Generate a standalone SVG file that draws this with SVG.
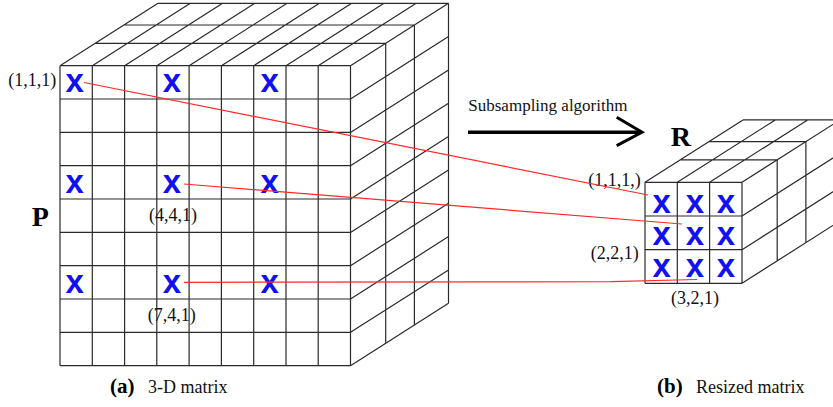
<svg xmlns="http://www.w3.org/2000/svg" width="833" height="407" viewBox="0 0 833 407">
<style>
.g{fill:none;stroke:#2a2a2a;stroke-width:1.2}
.red{fill:none;stroke:#ff2a2a;stroke-width:1.2}
.lbl{font-family:"Liberation Serif","Times New Roman",serif;font-size:18px;fill:#111}
.big{font-family:"Liberation Serif","Times New Roman",serif;font-weight:bold;font-size:28px;fill:#000}
.cap{font-family:"Liberation Serif","Times New Roman",serif;font-weight:bold;font-size:21px;fill:#000}
.mk{font-family:"Liberation Sans",Arial,sans-serif;font-weight:bold;font-size:33px;fill:#1010f0;text-anchor:middle}
</style>
<rect width="833" height="407" fill="#ffffff"/>

<g id="cubeP">
<!-- front face -->
<path class="g" d="M60,65.7V365.7M92.3,65.7V365.7M124.6,65.7V365.7M156.8,65.7V365.7M189.1,65.7V365.7M221.4,65.7V365.7M253.7,65.7V365.7M286,65.7V365.7M318.2,65.7V365.7M350.5,65.7V365.7
M60,65.7H350.5M60,99H350.5M60,132.4H350.5M60,165.7H350.5M60,199H350.5M60,232.4H350.5M60,265.7H350.5M60,299H350.5M60,332.3H350.5M60,365.7H350.5"/>
<!-- top face -->
<path class="g" d="M60,65.7L158,3.3M92.3,65.7L190.3,3.3M124.6,65.7L222.6,3.3M156.8,65.7L254.8,3.3M189.1,65.7L287.1,3.3M221.4,65.7L319.4,3.3M253.7,65.7L351.7,3.3M286,65.7L384,3.3M318.2,65.7L416.2,3.3M350.5,65.7L448.5,3.3
M95.2,43.3H385.7M123.9,25H414.4M158,3.3H448.5"/>
<!-- right face -->
<path class="g" d="M350.5,99L448.5,36.6M350.5,132.4L448.5,70M350.5,165.7L448.5,103.3M350.5,199L448.5,136.6M350.5,232.4L448.5,170M350.5,265.7L448.5,203.3M350.5,299L448.5,236.6M350.5,332.3L448.5,269.9M350.5,365.7L448.5,303.3
M385.7,43.3V343.3M414.4,25V325M448.5,3.3V303.3"/>
<text class="mk" x="74.7" y="92.3">x</text>
<text class="mk" x="172" y="192.5">x</text>
<text class="mk" x="269.7" y="292.5">x</text>
<text class="mk" x="172" y="92.3">x</text>
<text class="mk" x="269.7" y="92.3">x</text>
<text class="mk" x="74.7" y="192.5">x</text>
<text class="mk" x="269.7" y="192.5">x</text>
<text class="mk" x="74.7" y="292.5">x</text>
<text class="mk" x="172" y="292.5">x</text>
<text class="big" x="31.7" y="226">P</text>
<text class="lbl" x="8.3" y="85.5">(1,1,1)</text>
<text class="lbl" x="149" y="221">(4,4,1)</text>
<text class="lbl" x="147.7" y="321">(7,4,1)</text>
<text class="cap" x="110" y="393">(a)</text>
<text class="lbl" x="148" y="393">3-D matrix</text>
</g>

<g id="cubeR">
<path class="g" d="M645,182.3V283.3M677.3,182.3V283.3M709.6,182.3V283.3M742,182.3V283.3
M645,182.3H742M645,216H742M645,249.7H742M645,283.3H742"/>
<path class="g" d="M645,182.3L743,119.9M677.3,182.3L775.3,119.9M709.6,182.3L807.6,119.9M742,182.3L840,119.9
M680.2,159.9H777.2M708.9,141.6H805.9M743,119.9H840"/>
<path class="g" d="M742,216L840,153.6M742,249.7L840,187.3M742,283.3L840,220.9
M777.2,159.9V260.9M805.9,141.6V242.6"/>
<text class="mk" x="661.7" y="212.7">x</text>
<text class="mk" x="695" y="212.7">x</text>
<text class="mk" x="726" y="212.7">x</text>
<text class="mk" x="661.7" y="245">x</text>
<text class="mk" x="695" y="245">x</text>
<text class="mk" x="726" y="245">x</text>
<text class="mk" x="661.7" y="276.7">x</text>
<text class="mk" x="695" y="276.7">x</text>
<text class="mk" x="726" y="276.7">x</text>
<text class="big" x="670.7" y="146">R</text>
<text class="lbl" x="588.3" y="185.5">(1,1,1,)</text>
<text class="lbl" x="590.7" y="258.5">(2,2,1)</text>
<text class="lbl" x="671" y="303.5">(3,2,1)</text>
<text class="cap" x="657" y="393">(b)</text>
<text class="lbl" x="696" y="393">Resized matrix</text>
</g>

<g id="arrow">
<path d="M468,132.3H640" fill="none" stroke="#000" stroke-width="3.5"/>
<path d="M616.7,117.3L642,132.3L616.7,145.7" fill="none" stroke="#000" stroke-width="3"/>
<text class="lbl" x="468.3" y="110.5" style="font-size:17px">Subsampling algorithm</text>
</g>

<g id="connectors">
<path class="red" d="M84,82.5L648,195"/>
<path class="red" d="M184,184L682,224"/>
<path class="red" d="M184,282.3L611,281.7L697,279.5"/>
</g>
</svg>
